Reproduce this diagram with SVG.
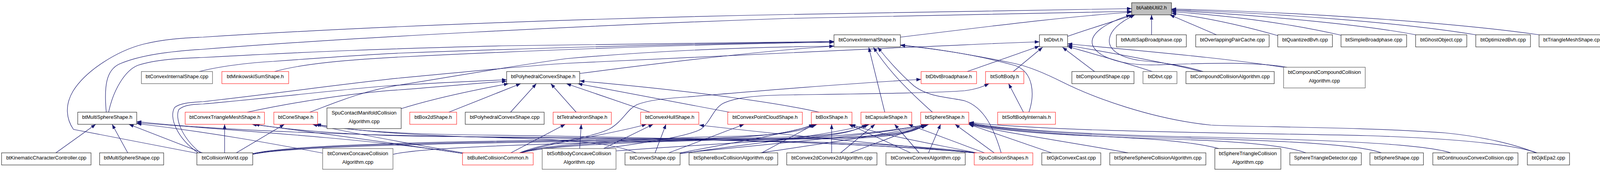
<svg xmlns="http://www.w3.org/2000/svg" width="4117" height="440" viewBox="0 0 4117 440">
<style>
.e{fill:none;stroke:#191970;stroke-width:1.2;marker-end:url(#ah)}
.b{fill:#ffffff;stroke:#000000;stroke-width:1}
.r{fill:#ffffff;stroke:#ff0000;stroke-width:1}
.g{fill:#ffffff;stroke:#555555;stroke-width:1.2}
.h{fill:#bfbfbf;stroke:#000000;stroke-width:1}
text{font-family:"Liberation Sans",Arial,Helvetica,sans-serif;font-size:13px;fill:#000000;text-anchor:middle}
</style>
<defs>
<marker id="ah" markerWidth="12" markerHeight="9" refX="12" refY="4.5" orient="auto" markerUnits="userSpaceOnUse">
<path d="M0,0 L12,4.5 L0,9 z" fill="#191970"/>
</marker>
</defs>
<rect x="0" y="0" width="4117" height="440" fill="#ffffff"/>
<g id="edges">
<path class="e" d="M2305,95 C2500,72 2700,45 2897,31"/>
<path class="e" d="M2733,93 C2790,73 2850,55 2902,38"/>
<path class="e" d="M2948,89 L2948,38"/>
<path class="e" d="M3114,89 L2995,38"/>
<path class="e" d="M3271,91 C3180,65 3090,45 2999,34"/>
<path class="e" d="M3433,90 C3300,60 3150,40 2999,30"/>
<path class="e" d="M3624,89 C3500,65 3250,40 2999,27"/>
<path class="e" d="M3778,89 C3600,60 3300,35 2999,25"/>
<path class="e" d="M3940,89 C3700,55 3300,30 2999,23"/>
<path class="e" d="M272,287 C266,220 272,180 305,164 C360,140 440,131 520,126 C900,96 1500,65 2020,47 C2400,37 2700,32 2897,29"/>
<path class="e" d="M504,392 L188,331 C170,305 165,270 187,233 C220,180 300,130 367,113 C420,100 470,97 520,95 C1000,64 1600,45 2020,37 C2400,30 2700,25 2897,22"/>
<path class="e" d="M3080,183 C3040,170 2980,160 2930,156 C2870,150 2836,128 2840,100 C2843,75 2870,55 2905,38"/>
<path class="e" d="M3295,172 C3200,156 3060,163 2960,166 C2880,168 2815,150 2798,118 C2785,88 2830,58 2895,38"/>
<path class="e" d="M507,391 C452,352 432,300 447,275 C462,263 490,262 520,260 C700,240 900,212 1020,200 C1200,183 1350,168 1450,162 C1800,145 2100,130 2300,122 C2450,116 2560,110 2661,107"/>
<path class="e" d="M513,391 C465,352 447,302 458,280 C472,268 495,267 520,266 C700,250 900,226 1000,219 C1100,213 1200,208 1297,204"/>
<path class="e" d="M2476,183 L2661,118"/>
<path class="e" d="M2594,183 L2669,121"/>
<path class="e" d="M2802,183 L2720,121"/>
<path class="e" d="M2950,183 C2880,160 2800,138 2733,119"/>
<path class="e" d="M3075,183 C3000,163 2860,138 2733,116"/>
<path class="e" d="M3290,173 C3150,150 2950,133 2733,112"/>
<path class="e" d="M278,287 C290,230 320,180 353,167 C400,152 460,149 520,147 C800,132 1000,124 1300,117 C1700,110 2000,107 2135,106"/>
<path class="e" d="M510,183 C560,170 640,160 700,157 C850,146 950,139 1020,136 C1400,122 1800,111 2135,107"/>
<path class="e" d="M703,183 C760,167 850,155 1020,146 C1400,127 1800,113 2135,108"/>
<path class="e" d="M1484,188 C1700,160 1950,130 2135,118"/>
<path class="e" d="M793,287 C860,262 930,232 1020,218 C1150,198 1300,170 1450,150 C1700,128 1950,120 2135,118"/>
<path class="e" d="M2265,287 L2224,121"/>
<path class="e" d="M2387,287 C2340,245 2280,190 2236,121"/>
<path class="e" d="M2563,391 C2545,330 2520,275 2470,258 C2430,248 2380,250 2340,220 C2300,185 2270,150 2247,121"/>
<path class="e" d="M2634,287 C2650,240 2645,185 2600,168 C2500,140 2400,125 2305,115"/>
<path class="e" d="M3932,391 C3880,370 3800,350 3700,340 C3500,325 3200,325 3100,320 C2950,305 2800,250 2720,210 C2680,190 2640,172 2600,163 C2500,142 2400,125 2305,116"/>
<path class="e" d="M633,287 C750,262 900,238 1020,230 C1120,223 1200,214 1297,208"/>
<path class="e" d="M1027,278 C1100,255 1200,233 1302,214"/>
<path class="e" d="M1149,287 L1333,214"/>
<path class="e" d="M1307,287 L1373,214"/>
<path class="e" d="M1475,287 L1410,214"/>
<path class="e" d="M1664,287 L1450,214"/>
<path class="e" d="M1867,287 L1479,214"/>
<path class="e" d="M2097,287 C2000,265 1800,235 1484,207"/>
<path class="e" d="M1330,391 C1400,362 1510,355 1560,330 C1595,310 1605,280 1630,268 C1660,256 1700,252 1760,248 C1950,232 2150,215 2358,203"/>
<path class="e" d="M1545,380 C1650,365 1760,350 1795,330 C1820,310 1825,280 1850,265 C1880,250 1930,245 2000,243 C2200,240 2400,238 2470,232 C2500,228 2515,222 2532,214"/>
<path class="e" d="M2620,287 L2582,214"/>
<path class="e" d="M143,391 L245,318"/>
<path class="e" d="M327,391 L287,318"/>
<path class="e" d="M518,391 L330,318"/>
<path class="e" d="M1186,393 C1000,362 700,340 350,314"/>
<path class="e" d="M2500,391 C2300,362 1900,358 1500,354 C1000,349 600,338 350,311"/>
<path class="e" d="M828,392 C700,368 550,340 350,316"/>
<path class="e" d="M575,391 L575,318"/>
<path class="e" d="M1188,393 C1000,365 800,338 645,318"/>
<path class="e" d="M2502,392 C2200,360 1600,352 1100,349 C900,346 760,335 652,318"/>
<path class="e" d="M605,391 L728,318"/>
<path class="e" d="M1192,392 C1050,368 900,340 800,318"/>
<path class="e" d="M2505,392 C2200,362 1600,350 1200,345 C1000,342 880,332 806,318"/>
<path class="e" d="M1628,391 C1550,358 1400,356 1200,350 C1000,343 890,332 810,318"/>
<path class="e" d="M1308,391 L1447,318"/>
<path class="e" d="M1484,380 L1488,318"/>
<path class="e" d="M1335,391 C1390,368 1560,345 1655,318"/>
<path class="e" d="M1545,380 L1672,318"/>
<path class="e" d="M1677,391 L1705,318"/>
<path class="e" d="M2496,391 C2300,372 2000,345 1790,320"/>
<path class="e" d="M1712,391 L1905,318"/>
<path class="e" d="M2129,391 L2129,318"/>
<path class="e" d="M2331,391 L2173,318"/>
<path class="e" d="M1950,391 L2085,318"/>
<path class="e" d="M647,393 C760,364 1400,358 1800,354 C1950,351 2030,340 2083,318"/>
<path class="e" d="M1330,391 C1400,365 1700,352 1900,348 C2000,345 2060,335 2088,318"/>
<path class="e" d="M1741,391 C1850,370 2000,345 2092,318"/>
<path class="e" d="M2500,391 C2400,370 2250,345 2178,318"/>
<path class="e" d="M2152,391 L2240,318"/>
<path class="e" d="M2353,391 L2290,318"/>
<path class="e" d="M2520,391 L2325,318"/>
<path class="e" d="M647,394 C762,365 1500,359 2000,354 C2120,351 2185,340 2218,318"/>
<path class="e" d="M1333,391 C1405,366 1750,355 2000,351 C2120,348 2190,338 2222,318"/>
<path class="e" d="M1741,393 C1900,370 2100,350 2226,318"/>
<path class="e" d="M2177,391 L2370,318"/>
<path class="e" d="M2377,391 L2408,318"/>
<path class="e" d="M2545,391 L2445,318"/>
<path class="e" d="M2692,391 L2480,318"/>
<path class="e" d="M2888,391 C2750,365 2560,338 2481,318"/>
<path class="e" d="M3120,380 C3050,362 2950,355 2800,348 C2650,342 2530,330 2481,317"/>
<path class="e" d="M3343,391 C3300,375 3200,362 3000,356 C2800,350 2560,335 2481,316"/>
<path class="e" d="M3536,391 C3480,370 3300,360 3000,352 C2800,346 2560,333 2481,315"/>
<path class="e" d="M3714,391 C3650,370 3450,358 3000,349 C2800,344 2560,331 2481,314"/>
<path class="e" d="M3935,391 C3880,372 3750,355 3500,347 C3200,340 2700,338 2481,313"/>
<path class="e" d="M647,395 C764,366 1600,360 2150,355 C2280,352 2345,340 2367,318"/>
<path class="e" d="M1336,391 C1410,367 1800,357 2150,352 C2280,349 2345,338 2370,318"/>
<path class="e" d="M1741,392 C2000,365 2250,345 2374,318"/>
<path class="e" d="M1947,391 C2100,368 2300,340 2378,318"/>
<path class="e" d="M1006,395 C1100,370 1700,360 2100,354 C2250,350 2340,338 2372,318"/>
<path class="e" d="M1577,386 C1900,362 2200,352 2375,318"/>
</g>
<g id="node-btAabbUtil2_h"><rect class="h" x="2897" y="7" width="102" height="31"/><text x="2948" y="24">btAabbUtil2.h</text></g>
<g id="node-btConvexInternalShape_h"><rect class="b" x="2135" y="89" width="170" height="31"/><text x="2220" y="106">btConvexInternalShape.h</text></g>
<g id="node-btDbvt_h"><rect class="b" x="2661" y="89" width="72" height="31"/><text x="2697" y="106">btDbvt.h</text></g>
<g id="node-btMultiSapBroadphase_cpp"><rect class="b" x="2858" y="89" width="179" height="31"/><text x="2947.5" y="106">btMultiSapBroadphase.cpp</text></g>
<g id="node-btOverlappingPairCache_cpp"><rect class="b" x="3061" y="89" width="188" height="31"/><text x="3155" y="106">btOverlappingPairCache.cpp</text></g>
<g id="node-btQuantizedBvh_cpp"><rect class="b" x="3271" y="89" width="140" height="31"/><text x="3341" y="106">btQuantizedBvh.cpp</text></g>
<g id="node-btSimpleBroadphase_cpp"><rect class="b" x="3433" y="89" width="168" height="31"/><text x="3517" y="106">btSimpleBroadphase.cpp</text></g>
<g id="node-btGhostObject_cpp"><rect class="b" x="3624" y="89" width="131" height="31"/><text x="3689.5" y="106">btGhostObject.cpp</text></g>
<g id="node-btOptimizedBvh_cpp"><rect class="b" x="3778" y="89" width="140" height="31"/><text x="3848" y="106">btOptimizedBvh.cpp</text></g>
<g id="node-btTriangleMeshShape_cpp"><rect class="b" x="3940" y="89" width="173" height="31"/><text x="4026.5" y="106">btTriangleMeshShape.cpp</text></g>
<g id="node-btConvexInternalShape_cpp"><rect class="g" x="362" y="183" width="182" height="31"/><text x="453" y="200">btConvexInternalShape.cpp</text></g>
<g id="node-btMinkowskiSumShape_h"><rect class="r" x="568" y="183" width="171" height="31"/><text x="653.5" y="200">btMinkowskiSumShape.h</text></g>
<g id="node-btPolyhedralConvexShape_h"><rect class="b" x="1297" y="183" width="187" height="31"/><text x="1390.5" y="200">btPolyhedralConvexShape.h</text></g>
<g id="node-btDbvtBroadphase_h"><rect class="r" x="2358" y="183" width="142" height="31"/><text x="2429" y="200">btDbvtBroadphase.h</text></g>
<g id="node-btSoftBody_h"><rect class="r" x="2523" y="183" width="98" height="31"/><text x="2572" y="200">btSoftBody.h</text></g>
<g id="node-btCompoundShape_cpp"><rect class="b" x="2744" y="183" width="159" height="31"/><text x="2823.5" y="200">btCompoundShape.cpp</text></g>
<g id="node-btDbvt_cpp"><rect class="g" x="2926" y="183" width="87" height="31"/><text x="2969.5" y="200">btDbvt.cpp</text></g>
<g id="node-btCompoundCollisionAlgorithm_cpp"><rect class="b" x="3036" y="183" width="226" height="31"/><text x="3149" y="200">btCompoundCollisionAlgorithm.cpp</text></g>
<g id="node-btCompoundCompoundCollisionAlgorithm_cpp"><rect class="g" x="3286" y="172" width="209" height="53"/><text x="3390.5" y="189">btCompoundCompoundCollision</text><text x="3390.5" y="211">Algorithm.cpp</text></g>
<g id="node-btMultiSphereShape_h"><rect class="b" x="199" y="287" width="151" height="31"/><text x="274.5" y="304">btMultiSphereShape.h</text></g>
<g id="node-btConvexTriangleMeshShape_h"><rect class="r" x="474" y="287" width="203" height="31"/><text x="575.5" y="304">btConvexTriangleMeshShape.h</text></g>
<g id="node-btConeShape_h"><rect class="r" x="701" y="287" width="112" height="31"/><text x="757" y="304">btConeShape.h</text></g>
<g id="node-SpuContactManifoldCollisionAlgorithm_cpp"><rect class="b" x="837" y="276" width="190" height="53"/><text x="932" y="293">SpuContactManifoldCollision</text><text x="932" y="315">Algorithm.cpp</text></g>
<g id="node-btBox2dShape_h"><rect class="r" x="1049" y="287" width="120" height="31"/><text x="1109" y="304">btBox2dShape.h</text></g>
<g id="node-btPolyhedralConvexShape_cpp"><rect class="b" x="1191" y="287" width="202" height="31"/><text x="1292" y="304">btPolyhedralConvexShape.cpp</text></g>
<g id="node-btTetrahedronShape_h"><rect class="r" x="1416" y="287" width="149" height="31"/><text x="1490.5" y="304">btTetrahedronShape.h</text></g>
<g id="node-btConvexHullShape_h"><rect class="r" x="1640" y="287" width="149" height="31"/><text x="1714.5" y="304">btConvexHullShape.h</text></g>
<g id="node-btConvexPointCloudShape_h"><rect class="r" x="1863" y="287" width="191" height="31"/><text x="1958.5" y="304">btConvexPointCloudShape.h</text></g>
<g id="node-btBoxShape_h"><rect class="r" x="2077" y="287" width="104" height="31"/><text x="2129" y="304">btBoxShape.h</text></g>
<g id="node-btCapsuleShape_h"><rect class="r" x="2204" y="287" width="130" height="31"/><text x="2269" y="304">btCapsuleShape.h</text></g>
<g id="node-btSphereShape_h"><rect class="r" x="2357" y="287" width="123" height="31"/><text x="2418.5" y="304">btSphereShape.h</text></g>
<g id="node-btSoftBodyInternals_h"><rect class="r" x="2554" y="287" width="148" height="31"/><text x="2628" y="304">btSoftBodyInternals.h</text></g>
<g id="node-btKinematicCharacterController_cpp"><rect class="b" x="4" y="391" width="229" height="31"/><text x="118.5" y="408">btKinematicCharacterController.cpp</text></g>
<g id="node-btMultiSphereShape_cpp"><rect class="b" x="255" y="391" width="164" height="31"/><text x="337" y="408">btMultiSphereShape.cpp</text></g>
<g id="node-btCollisionWorld_cpp"><rect class="b" x="504" y="391" width="143" height="31"/><text x="575.5" y="408">btCollisionWorld.cpp</text></g>
<g id="node-btConvexConcaveCollisionAlgorithm_cpp"><rect class="g" x="826" y="380" width="180" height="53"/><text x="916" y="397">btConvexConcaveCollision</text><text x="916" y="419">Algorithm.cpp</text></g>
<g id="node-btBulletCollisionCommon_h"><rect class="r" x="1184" y="391" width="181" height="31"/><text x="1274.5" y="408">btBulletCollisionCommon.h</text></g>
<g id="node-btSoftBodyConcaveCollisionAlgorithm_cpp"><rect class="g" x="1388" y="380" width="189" height="53"/><text x="1482.5" y="397">btSoftBodyConcaveCollision</text><text x="1482.5" y="419">Algorithm.cpp</text></g>
<g id="node-btConvexShape_cpp"><rect class="b" x="1600" y="391" width="141" height="31"/><text x="1670.5" y="408">btConvexShape.cpp</text></g>
<g id="node-btSphereBoxCollisionAlgorithm_cpp"><rect class="b" x="1764" y="391" width="227" height="31"/><text x="1877.5" y="408">btSphereBoxCollisionAlgorithm.cpp</text></g>
<g id="node-btConvex2dConvex2dAlgorithm_cpp"><rect class="b" x="2014" y="391" width="231" height="31"/><text x="2129.5" y="408">btConvex2dConvex2dAlgorithm.cpp</text></g>
<g id="node-btConvexConvexAlgorithm_cpp"><rect class="b" x="2268" y="391" width="203" height="31"/><text x="2369.5" y="408">btConvexConvexAlgorithm.cpp</text></g>
<g id="node-SpuCollisionShapes_h"><rect class="r" x="2494" y="391" width="150" height="31"/><text x="2569" y="408">SpuCollisionShapes.h</text></g>
<g id="node-btGjkConvexCast_cpp"><rect class="b" x="2667" y="391" width="151" height="31"/><text x="2742.5" y="408">btGjkConvexCast.cpp</text></g>
<g id="node-btSphereSphereCollisionAlgorithm_cpp"><rect class="b" x="2841" y="391" width="246" height="31"/><text x="2964" y="408">btSphereSphereCollisionAlgorithm.cpp</text></g>
<g id="node-btSphereTriangleCollisionAlgorithm_cpp"><rect class="b" x="3110" y="380" width="169" height="53"/><text x="3194.5" y="397">btSphereTriangleCollision</text><text x="3194.5" y="419">Algorithm.cpp</text></g>
<g id="node-SphereTriangleDetector_cpp"><rect class="b" x="3302" y="391" width="183" height="31"/><text x="3393.5" y="408">SphereTriangleDetector.cpp</text></g>
<g id="node-btSphereShape_cpp"><rect class="b" x="3507" y="391" width="137" height="31"/><text x="3575.5" y="408">btSphereShape.cpp</text></g>
<g id="node-btContinuousConvexCollision_cpp"><rect class="b" x="3668" y="391" width="218" height="31"/><text x="3777" y="408">btContinuousConvexCollision.cpp</text></g>
<g id="node-btGjkEpa2_cpp"><rect class="b" x="3910" y="391" width="108" height="31"/><text x="3964" y="408">btGjkEpa2.cpp</text></g>
</svg>
